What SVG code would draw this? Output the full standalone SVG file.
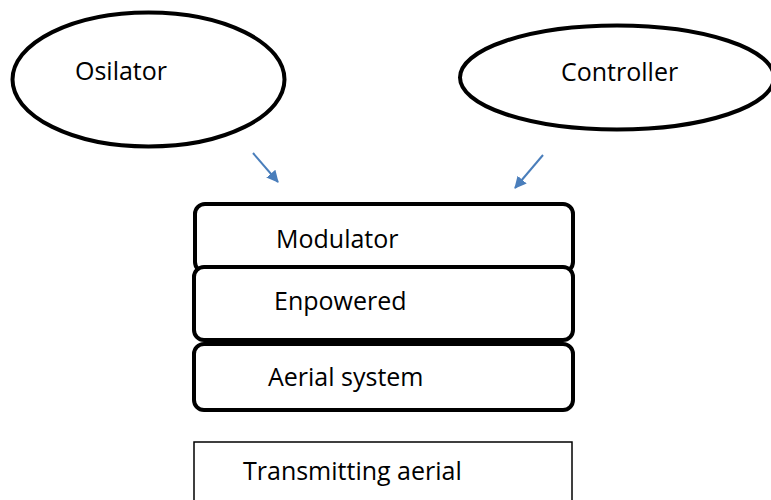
<svg xmlns="http://www.w3.org/2000/svg" width="771" height="500" viewBox="0 0 771 500">
<defs>
<style>
.ell{fill:#fff;stroke:#000;stroke-width:4}
.box{fill:#fff;stroke:#000;stroke-width:4}
.thin{fill:#fff;stroke:#000;stroke-width:1.5}
.t{font-family:"Open Sans","Liberation Sans",sans-serif;font-size:25px;fill:#000}
.arr{stroke:#4a7ebb;stroke-width:2;fill:none}
</style>
<marker id="ah" markerWidth="12" markerHeight="12" refX="11" refY="6" orient="auto" markerUnits="userSpaceOnUse">
<path d="M0,0 L12,6 L0,12 Z" fill="#4a7ebb"/>
</marker>
</defs>
<rect width="771" height="500" fill="#fff"/>
<g id="osilator">
<ellipse class="ell" cx="148.5" cy="79.5" rx="136" ry="67"/>
<text class="t" x="75" y="80">Osilator</text>
</g>
<g id="controller">
<ellipse class="ell" cx="617" cy="77.5" rx="157" ry="52"/>
<text class="t" x="561" y="81">Controller</text>
</g>
<g id="connectors">
<line class="arr" x1="253" y1="153" x2="278" y2="182" marker-end="url(#ah)"/>
<line class="arr" x1="543" y1="155" x2="515" y2="188" marker-end="url(#ah)"/>
</g>
<g id="modulator">
<rect class="box" x="195" y="204" width="378" height="68" rx="10"/>
<text class="t" x="276" y="248">Modulator</text>
</g>
<g id="enpowered">
<rect class="box" x="194" y="267" width="379" height="73" rx="10"/>
<text class="t" x="274" y="310">Enpowered</text>
</g>
<g id="aerial-system">
<rect class="box" x="194" y="344" width="379" height="66" rx="10"/>
<text class="t" x="268" y="386">Aerial system</text>
</g>
<g id="transmitting-aerial">
<rect class="thin" x="194" y="442" width="378" height="70"/>
<text class="t" x="243" y="480">Transmitting aerial</text>
</g>
</svg>
